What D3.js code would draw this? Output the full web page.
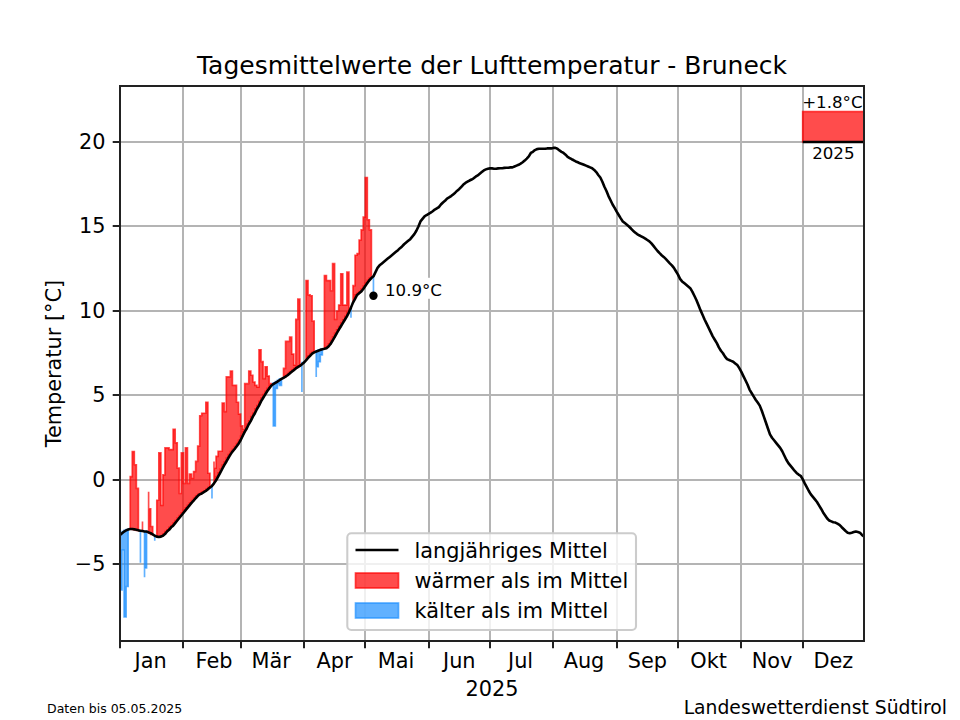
<!DOCTYPE html>
<html>
<head>
<meta charset="utf-8">
<script src="https://cdn.jsdelivr.net/npm/d3@7"></script>
<style>
  html, body { margin: 0; padding: 0; background: #fff; }
  text { font-family: "DejaVu Sans", sans-serif; fill: #000; }
</style>
</head>
<body>
<svg id="chart" width="960" height="720"></svg>
<script>
// Tick labels and month starts (day of year, zero based)
var monthNames = ["Jan", "Feb", "Mär", "Apr", "Mai", "Jun", "Jul", "Aug", "Sep", "Okt", "Nov", "Dez"];
var monthStarts = [0, 31, 59, 90, 120, 151, 181, 212, 243, 273, 304, 334];
var lastDayOfYear = 364;
var tempTicks = [-5, 0, 5, 10, 15, 20];

// Long term mean for every day of the year
var longTermMean = [
  -3.25, -3.15, -3.05, -2.98, -2.93, -2.9, -2.9, -2.92, -2.95, -2.98,
  -3.0, -3.02, -3.05, -3.05, -3.1, -3.15, -3.22, -3.3, -3.35, -3.37,
  -3.35, -3.3, -3.2, -3.05, -2.95, -2.8, -2.7, -2.55, -2.4, -2.25,
  -2.1, -1.95, -1.8, -1.65, -1.5, -1.35, -1.22, -1.08, -0.95, -0.85,
  -0.8, -0.72, -0.65, -0.55, -0.45, -0.35, -0.2, -0.02, 0.2, 0.42,
  0.65, 0.88, 1.08, 1.3, 1.5, 1.68, 1.82, 1.98, 2.15, 2.35,
  2.6, 2.85, 3.05, 3.3, 3.5, 3.75, 3.95, 4.2, 4.4, 4.65,
  4.85, 5.05, 5.25, 5.42, 5.58, 5.68, 5.75, 5.82, 5.9, 5.98,
  6.05, 6.12, 6.2, 6.3, 6.4, 6.5, 6.6, 6.68, 6.75, 6.85,
  6.95, 7.08, 7.22, 7.35, 7.48, 7.55, 7.6, 7.65, 7.7, 7.73,
  7.76, 7.8, 7.9, 8.05, 8.25, 8.45, 8.68, 8.88, 9.08, 9.28,
  9.48, 9.68, 9.92, 10.2, 10.5, 10.72, 10.95, 11.05, 11.15, 11.3,
  11.48, 11.65, 11.82, 11.95, 12.05, 12.3, 12.55, 12.7, 12.8, 12.9,
  13.0, 13.1, 13.2, 13.3, 13.4, 13.5, 13.6, 13.72, 13.82, 13.95,
  14.05, 14.15, 14.25, 14.4, 14.55, 14.75, 15.0, 15.3, 15.45, 15.6,
  15.68, 15.75, 15.82, 15.9, 16.0, 16.07, 16.15, 16.3, 16.42, 16.52,
  16.65, 16.72, 16.8, 16.9, 17.0, 17.12, 17.22, 17.35, 17.48, 17.58,
  17.65, 17.72, 17.78, 17.85, 17.95, 18.02, 18.12, 18.22, 18.32, 18.38,
  18.42, 18.44, 18.44, 18.42, 18.42, 18.44, 18.45, 18.45, 18.47, 18.48,
  18.48, 18.5, 18.5, 18.55, 18.6, 18.65, 18.72, 18.8, 18.9, 19.02,
  19.15, 19.35, 19.42, 19.52, 19.58, 19.6, 19.6, 19.6, 19.6, 19.62,
  19.62, 19.62, 19.65, 19.65, 19.6, 19.5, 19.42, 19.35, 19.25, 19.12,
  19.05, 18.98, 18.92, 18.85, 18.8, 18.74, 18.7, 18.65, 18.6, 18.55,
  18.5, 18.45, 18.35, 18.22, 18.05, 17.9, 17.65, 17.35, 17.1, 16.8,
  16.55, 16.3, 16.1, 15.88, 15.68, 15.48, 15.3, 15.2, 15.1, 15.0,
  14.88, 14.75, 14.65, 14.55, 14.48, 14.42, 14.35, 14.28, 14.2, 14.12,
  14.0, 13.85, 13.7, 13.55, 13.42, 13.3, 13.2, 13.08, 12.95, 12.82,
  12.7, 12.55, 12.35, 12.15, 11.9, 11.75, 11.65, 11.55, 11.45, 11.35,
  11.15, 10.9, 10.65, 10.35, 10.05, 9.78, 9.5, 9.25, 9.0, 8.75,
  8.5, 8.3, 8.1, 7.85, 7.65, 7.5, 7.3, 7.15, 7.1, 7.05,
  7.0, 6.9, 6.8, 6.62, 6.4, 6.15, 5.9, 5.65, 5.35, 5.15,
  4.95, 4.75, 4.58, 4.4, 4.1, 3.75, 3.4, 3.05, 2.7, 2.5,
  2.35, 2.2, 2.05, 1.9, 1.7, 1.45, 1.2, 1.0, 0.85, 0.7,
  0.55, 0.42, 0.32, 0.25, 0.05, -0.2, -0.42, -0.65, -0.85, -1.0,
  -1.15, -1.3, -1.5, -1.7, -1.92, -2.1, -2.28, -2.4, -2.45, -2.5,
  -2.52, -2.58, -2.65, -2.78, -2.9, -3.02, -3.12, -3.15, -3.12, -3.08,
  -3.05, -3.08, -3.12, -3.25, -3.35
];

// Daily mean temperature of 2025 up to May 5th
var dailyTemp = [
  -4.0, -6.5, -4.15, -8.1, -6.3, 0.2, 0.2, 1.68, 0.9, -0.5,
  -4.9, -2.45, -5.75, -5.2, -0.7, -1.7, -2.75, -3.6, -1.2, -1.2,
  1.6, -1.5, 0.3, 1.9, 1.9, 1.8, 1.8, 3.0, 2.2, 0.7,
  -0.8, 1.6, -0.2, 1.9, -0.2, 0.35, 0.1, 0.5, 1.1, 2.0,
  3.8, 3.95, 3.95, 4.6, 0.4, -1.1, 1.1, 0.7, 1.4, 1.7,
  1.7, 4.55, 4.05, 6.1, 6.1, 6.45, 5.6, 5.6, 4.6, 3.9,
  3.2, 3.0, 5.7, 5.7, 6.45, 6.2, 5.8, 5.6, 5.5, 7.7,
  7.0, 6.0, 6.7, 6.15, 5.7, 3.2, 3.2, 5.42, 5.7, 5.6,
  6.1, 6.6, 8.2, 8.2, 8.45, 7.45, 6.8, 9.5, 10.7, 5.2,
  6.9, 11.8, 11.8, 10.95, 10.9, 9.4, 6.1, 6.7, 7.0, 7.4,
  12.1, 12.1, 11.8, 11.8, 11.2, 12.8, 9.5, 10.0, 10.35, 12.2,
  10.35, 10.35, 12.3, 9.6, 11.5, 11.5, 13.3, 13.4, 14.2, 14.8,
  15.55, 17.9, 15.4, 14.8, 10.9
];

var yearLabel = "2025";
var yearAnomaly = 1.8;
var lastDay = dailyTemp.length - 1;

var colWarm = "#ff0000";
var colCold = "#1e90ff";
var gridCol = "#b4b4b4";

var margin = { left: 120, right: 864, top: 86.4, bottom: 640.8 };

var svg = d3.select("#chart");

var x = d3.scaleLinear().domain([0, lastDayOfYear]).range([margin.left, margin.right]);
var y = d3.scaleLinear().domain([-9.515, 23.29]).range([margin.bottom, margin.top]);

svg.append("clipPath").attr("id", "plotClip")
  .append("rect")
  .attr("x", margin.left)
  .attr("y", margin.top)
  .attr("width", margin.right - margin.left)
  .attr("height", margin.bottom - margin.top);

// Grid lines, snapped to whole pixels
var grid = svg.append("g");
monthStarts.slice(1).forEach((d) => {
  grid.append("line")
    .attr("x1", Math.round(x(d))).attr("x2", Math.round(x(d)))
    .attr("y1", margin.top).attr("y2", margin.bottom)
    .attr("stroke", gridCol).attr("stroke-width", 2);
});
tempTicks.forEach((d) => {
  grid.append("line")
    .attr("x1", margin.left).attr("x2", margin.right)
    .attr("y1", Math.round(y(d))).attr("y2", Math.round(y(d)))
    .attr("stroke", gridCol).attr("stroke-width", 2);
});

var plot = svg.append("g").attr("clip-path", "url(#plotClip)");

// Warmer / colder areas: steps ending on each day, one run per warm or cold spell
function stepArea(isOn) {
  return d3.area()
    .defined((d, i) => isOn(dailyTemp[i], longTermMean[i]))
    .x((d, i) => x(i))
    .y0((d, i) => y(longTermMean[i]))
    .y1((d, i) => y(dailyTemp[i]))
    .curve(d3.curveStepBefore);
}

function styleFill(sel, col) {
  return sel.attr("fill", col).attr("fill-opacity", 0.7)
    .attr("stroke", col).attr("stroke-opacity", 0.7)
    .attr("stroke-width", 1.67);
}

plot.append("path")
  .attr("d", stepArea((t, m) => t >= m)(dailyTemp))
  .call(styleFill, colWarm);
plot.append("path")
  .attr("d", stepArea((t, m) => t < m)(dailyTemp))
  .call(styleFill, colCold);

// Yearly anomaly box in the top right corner
var boxLeft = monthStarts[11];
var boxBase = tempTicks[tempTicks.length - 1];
plot.append("rect")
  .attr("x", x(boxLeft))
  .attr("y", y(boxBase + yearAnomaly))
  .attr("width", x(lastDayOfYear) - x(boxLeft))
  .attr("height", y(boxBase) - y(boxBase + yearAnomaly))
  .call(styleFill, colWarm);
plot.append("line")
  .attr("x1", x(boxLeft)).attr("x2", x(lastDayOfYear))
  .attr("y1", y(boxBase)).attr("y2", y(boxBase))
  .attr("stroke", "#000").attr("stroke-width", 2.6);

// Long term mean line
var meanLine = d3.line().x((d, i) => x(i)).y((d) => y(d));
plot.append("path")
  .attr("d", meanLine(longTermMean))
  .attr("fill", "none")
  .attr("stroke", "#000")
  .attr("stroke-linejoin", "round")
  .attr("stroke-width", 2.6);

// Last measured day
plot.append("circle")
  .attr("cx", x(lastDay)).attr("cy", y(dailyTemp[lastDay]))
  .attr("r", 4.2).attr("fill", "#000");
svg.append("rect")
  .attr("x", x(lastDay) + 9).attr("y", y(dailyTemp[lastDay]) - 18)
  .attr("width", 61).attr("height", 21)
  .attr("fill", "#fff");
svg.append("text")
  .attr("x", x(lastDay) + 11.5).attr("y", y(dailyTemp[lastDay]))
  .attr("font-size", 16.67)
  .text(dailyTemp[lastDay].toFixed(1) + "°C");

var boxMid = (x(boxLeft) + x(lastDayOfYear)) / 2;
svg.append("text")
  .attr("x", boxMid - 1).attr("y", y(boxBase + yearAnomaly) - 4)
  .attr("text-anchor", "middle").attr("font-size", 16.67)
  .text("+" + yearAnomaly.toFixed(1) + "°C");
svg.append("text")
  .attr("x", boxMid).attr("y", y(boxBase) + 16.5)
  .attr("text-anchor", "middle").attr("font-size", 16.67)
  .text(yearLabel);

// Legend
var legend = svg.append("g");
legend.append("rect")
  .attr("x", 347.3).attr("y", 533.3)
  .attr("width", 288.7).attr("height", 96.7)
  .attr("rx", 4).attr("ry", 4)
  .attr("fill", "#fff").attr("fill-opacity", 0.8)
  .attr("stroke", "#cccccc").attr("stroke-width", 2.08);
legend.append("line")
  .attr("x1", 355.5).attr("x2", 398.5)
  .attr("y1", 550).attr("y2", 550)
  .attr("stroke", "#000").attr("stroke-width", 2.6);
legend.append("rect")
  .attr("x", 355.5).attr("y", 573)
  .attr("width", 43).attr("height", 15)
  .call(styleFill, colWarm);
legend.append("rect")
  .attr("x", 355.5).attr("y", 603)
  .attr("width", 43).attr("height", 15)
  .call(styleFill, colCold);
[["langjähriges Mittel", 557.5], ["wärmer als im Mittel", 588], ["kälter als im Mittel", 618]].forEach((row) => {
  legend.append("text")
    .attr("x", 414.5).attr("y", row[1])
    .attr("font-size", 20.83)
    .text(row[0]);
});

// Axes
var yAxis = d3.axisLeft(y)
  .tickValues(tempTicks)
  .tickSize(7.3)
  .tickPadding(7.3)
  .offset(0)
  .tickFormat((d) => String(d).replace("-", "\u2212"));
var yG = svg.append("g")
  .attr("transform", "translate(" + margin.left + ",0)")
  .call(yAxis);
yG.selectAll(".tick").attr("transform", (d) => "translate(0," + Math.round(y(d)) + ")");
var xAxis = d3.axisBottom(x)
  .tickValues(monthStarts)
  .tickSize(7.3)
  .offset(0)
  .tickFormat("");
var xG = svg.append("g")
  .attr("transform", "translate(0," + Math.round(margin.bottom) + ")")
  .call(xAxis);
xG.selectAll(".tick").attr("transform", (d) => "translate(" + Math.round(x(d)) + ",0)");
[yG, xG].forEach((g) => {
  g.select(".domain").remove();
  g.selectAll("line").attr("stroke", "#222").attr("stroke-width", 2);
});
yG.selectAll("text").attr("font-size", 20.83).attr("font-family", "DejaVu Sans").attr("fill", "#000");

// Month names sit on the 16th of each month
monthNames.forEach((name, i) => {
  svg.append("text")
    .attr("x", x(monthStarts[i] + 15))
    .attr("y", 668)
    .attr("text-anchor", "middle")
    .attr("font-size", 20.83)
    .text(name);
});

// Axes frame
svg.append("rect")
  .attr("x", margin.left).attr("y", Math.round(margin.top))
  .attr("width", margin.right - margin.left)
  .attr("height", Math.round(margin.bottom) - Math.round(margin.top))
  .attr("fill", "none")
  .attr("stroke", "#222").attr("stroke-width", 2);

// Titles and notes
svg.append("text")
  .attr("x", 492).attr("y", 74)
  .attr("text-anchor", "middle").attr("font-size", 25)
  .text("Tagesmittelwerte der Lufttemperatur - Bruneck");
svg.append("text")
  .attr("x", 492).attr("y", 696)
  .attr("text-anchor", "middle").attr("font-size", 20.83)
  .text(yearLabel);
svg.append("text")
  .attr("transform", "translate(61,363.6) rotate(-90)")
  .attr("text-anchor", "middle").attr("font-size", 20.83)
  .text("Temperatur [°C]");
svg.append("text")
  .attr("x", 47).attr("y", 713)
  .attr("font-size", 12.5)
  .text("Daten bis 05.05.2025");
svg.append("text")
  .attr("x", 947).attr("y", 713.5)
  .attr("text-anchor", "end").attr("font-size", 18.75)
  .text("Landeswetterdienst Südtirol");
</script>
</body>
</html>
